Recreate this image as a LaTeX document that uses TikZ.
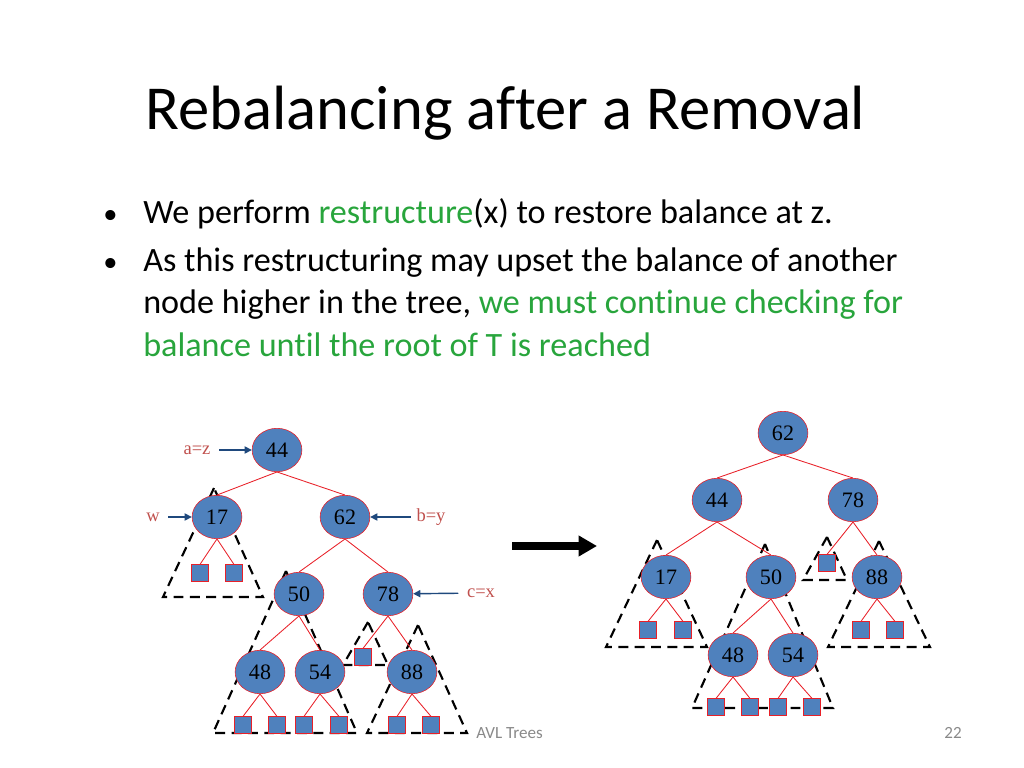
\documentclass[tikz,border=0pt]{standalone}
\usepackage{fontspec}
\setmainfont{Carlito}[Ligatures=NoCommon]
\newfontfamily\treefont{Liberation Serif}
\usetikzlibrary{shapes.geometric,arrows.meta}
\definecolor{avlblue}{RGB}{79,129,189}
\definecolor{avlred}{RGB}{232,32,40}
\definecolor{lblred}{RGB}{192,80,77}
\definecolor{ptrblue}{RGB}{31,73,125}
\definecolor{hlgreen}{RGB}{40,165,60}
\definecolor{footgray}{RGB}{137,137,137}
\begin{document}
\begin{tikzpicture}[x=0.703125pt,y=-0.703125pt,inner sep=0pt,
  key/.style={ellipse,draw=avlred,fill=avlblue,minimum width=35pt,minimum height=30.5pt,font=\treefont\fontsize{15.5}{15.5}\selectfont},
  ext/.style={rectangle,draw=avlred,fill=avlblue,minimum size=11.7pt},
  edge/.style={avlred,line width=0.6pt},
  subtree/.style={dashed,dash pattern=on 7pt off 4.5pt,line width=1.5pt},
  lbl/.style={text=lblred,font=\treefont\fontsize{13}{13}\selectfont},
  ptr/.style={ptrblue,line width=1pt,-{Triangle[length=5pt,width=5pt]}},
  body/.style={anchor=base west,font=\fontsize{24}{28}\selectfont}]

\useasboundingbox (0,0) rectangle (1024,768);

\node(title) at (145,130) [anchor=base west,font=\fontsize{44}{53}\selectfont] {Rebalancing after a Removal};
\node(b1) at (103,224) [body,font=\fontsize{20}{24}\selectfont] {\textbullet};
\node(t1) at (143,224) [body] {We perform \textcolor{hlgreen}{restructure}(x) to restore balance at z.};
\node(b2) at (103,272) [body,font=\fontsize{20}{24}\selectfont] {\textbullet};
\node(t2) at (143,272) [body] {As this restructuring may upset the balance of another};
\node(t3) at (143,314) [body] {node higher in the tree, \textcolor{hlgreen}{we must continue checking for}};
\node(t4) at (143,356) [body,text=hlgreen] {balance until the root of T is reached};

% subtrees (behind the nodes)
\draw[subtree] (214,488) -- (163,597) -- (263,597) -- cycle;
\draw[subtree] (286,571) -- (213,733) -- (357,733) -- cycle;
\draw[subtree] (368,622) -- (343,665) -- (388,665) -- cycle;
\draw[subtree] (418,625) -- (367,733) -- (467,733) -- cycle;

\draw[subtree] (657,540) -- (606,647) -- (707,647) -- cycle;
\draw[subtree] (765,544) -- (692,708) -- (833,708) -- cycle;
\draw[subtree] (827,537) -- (803,580) -- (847,580) -- cycle;
\draw[subtree] (879,541) -- (828,647) -- (930,647) -- cycle;

% before
\node(L44) at (277,450) [key] {44};
\node(L17) at (217,517) [key] {17};
\node(L62) at (345,517) [key] {62};
\node(L50) at (299,594) [key] {50};
\node(L78) at (388,594) [key] {78};
\node(L48) at (260,672) [key] {48};
\node(L54) at (320,672) [key] {54};
\node(L88) at (412,672) [key] {88};
\node(L17a) at (200,573) [ext] {};
\node(L17b) at (234,573) [ext] {};
\node(L78a) at (363,657) [ext] {};
\node(L48a) at (243,725) [ext] {};
\node(L48b) at (277,725) [ext] {};
\node(L54a) at (304,725) [ext] {};
\node(L54b) at (339,725) [ext] {};
\node(L88a) at (397,725) [ext] {};
\node(L88b) at (431,725) [ext] {};

\draw[edge] (L44.south) -- (L17.north);
\draw[edge] (L44.south) -- (L62.north);
\draw[edge] (L62.south) -- (L50.north);
\draw[edge] (L62.south) -- (L78.north);
\draw[edge] (L50.south) -- (L48.north);
\draw[edge] (L50.south) -- (L54.north);
\draw[edge] (L78.south) -- (L78a.north);
\draw[edge] (L78.south) -- (L88.north);
\draw[edge] (L17.south) -- (L17a.north);
\draw[edge] (L17.south) -- (L17b.north);
\draw[edge] (L48.south) -- (L48a.north);
\draw[edge] (L48.south) -- (L48b.north);
\draw[edge] (L54.south) -- (L54a.north);
\draw[edge] (L54.south) -- (L54b.north);
\draw[edge] (L88.south) -- (L88a.north);
\draw[edge] (L88.south) -- (L88b.north);

\node(az) at (197,450) [lbl] {a=z};
\node(w) at (153,517) [lbl] {w};
\node(by) at (431,517) [lbl] {b=y};
\node(cx) at (481,593) [lbl] {c=x};
\draw[ptr,shorten <=6pt] (az) -- (L44);
\draw[ptr,shorten <=6pt] (w) -- (L17);
\draw[ptr,shorten <=4pt] (by) -- (L62);
\draw[ptr,shorten <=6pt] (cx) -- (L78);

\coordinate(from) at (512,546);
\coordinate(to) at (597,546);
\draw[line width=5pt,-{Triangle[length=13pt,width=14pt]}] (from) -- (to);

% after
\node(R62) at (783,433) [key] {62};
\node(R44) at (717,500) [key] {44};
\node(R78) at (853,500) [key] {78};
\node(R17) at (666,577) [key] {17};
\node(R50) at (771,577) [key] {50};
\node(R88) at (877,577) [key] {88};
\node(R48) at (733,655) [key] {48};
\node(R54) at (793,655) [key] {54};
\node(R17a) at (648,630) [ext] {};
\node(R17b) at (683,630) [ext] {};
\node(R78a) at (827,563) [ext] {};
\node(R88a) at (861,630) [ext] {};
\node(R88b) at (895,630) [ext] {};
\node(R48a) at (716,707) [ext] {};
\node(R48b) at (750,707) [ext] {};
\node(R54a) at (778,707) [ext] {};
\node(R54b) at (812,707) [ext] {};

\draw[edge] (R62.south) -- (R44.north);
\draw[edge] (R62.south) -- (R78.north);
\draw[edge] (R44.south) -- (R17.north);
\draw[edge] (R44.south) -- (R50.north);
\draw[edge] (R78.south) -- (R78a.north);
\draw[edge] (R78.south) -- (R88.north);
\draw[edge] (R50.south) -- (R48.north);
\draw[edge] (R50.south) -- (R54.north);
\draw[edge] (R17.south) -- (R17a.north);
\draw[edge] (R17.south) -- (R17b.north);
\draw[edge] (R88.south) -- (R88a.north);
\draw[edge] (R88.south) -- (R88b.north);
\draw[edge] (R48.south) -- (R48a.north);
\draw[edge] (R48.south) -- (R48b.north);
\draw[edge] (R54.south) -- (R54a.north);
\draw[edge] (R54.south) -- (R54b.north);

\node(foot) at (476,738) [anchor=base west,text=footgray,font=\fontsize{12}{14}\selectfont] {AVL Trees};
\node(page) at (962,738) [anchor=base east,text=footgray,font=\fontsize{12}{14}\selectfont] {22};

\end{tikzpicture}
\end{document}
